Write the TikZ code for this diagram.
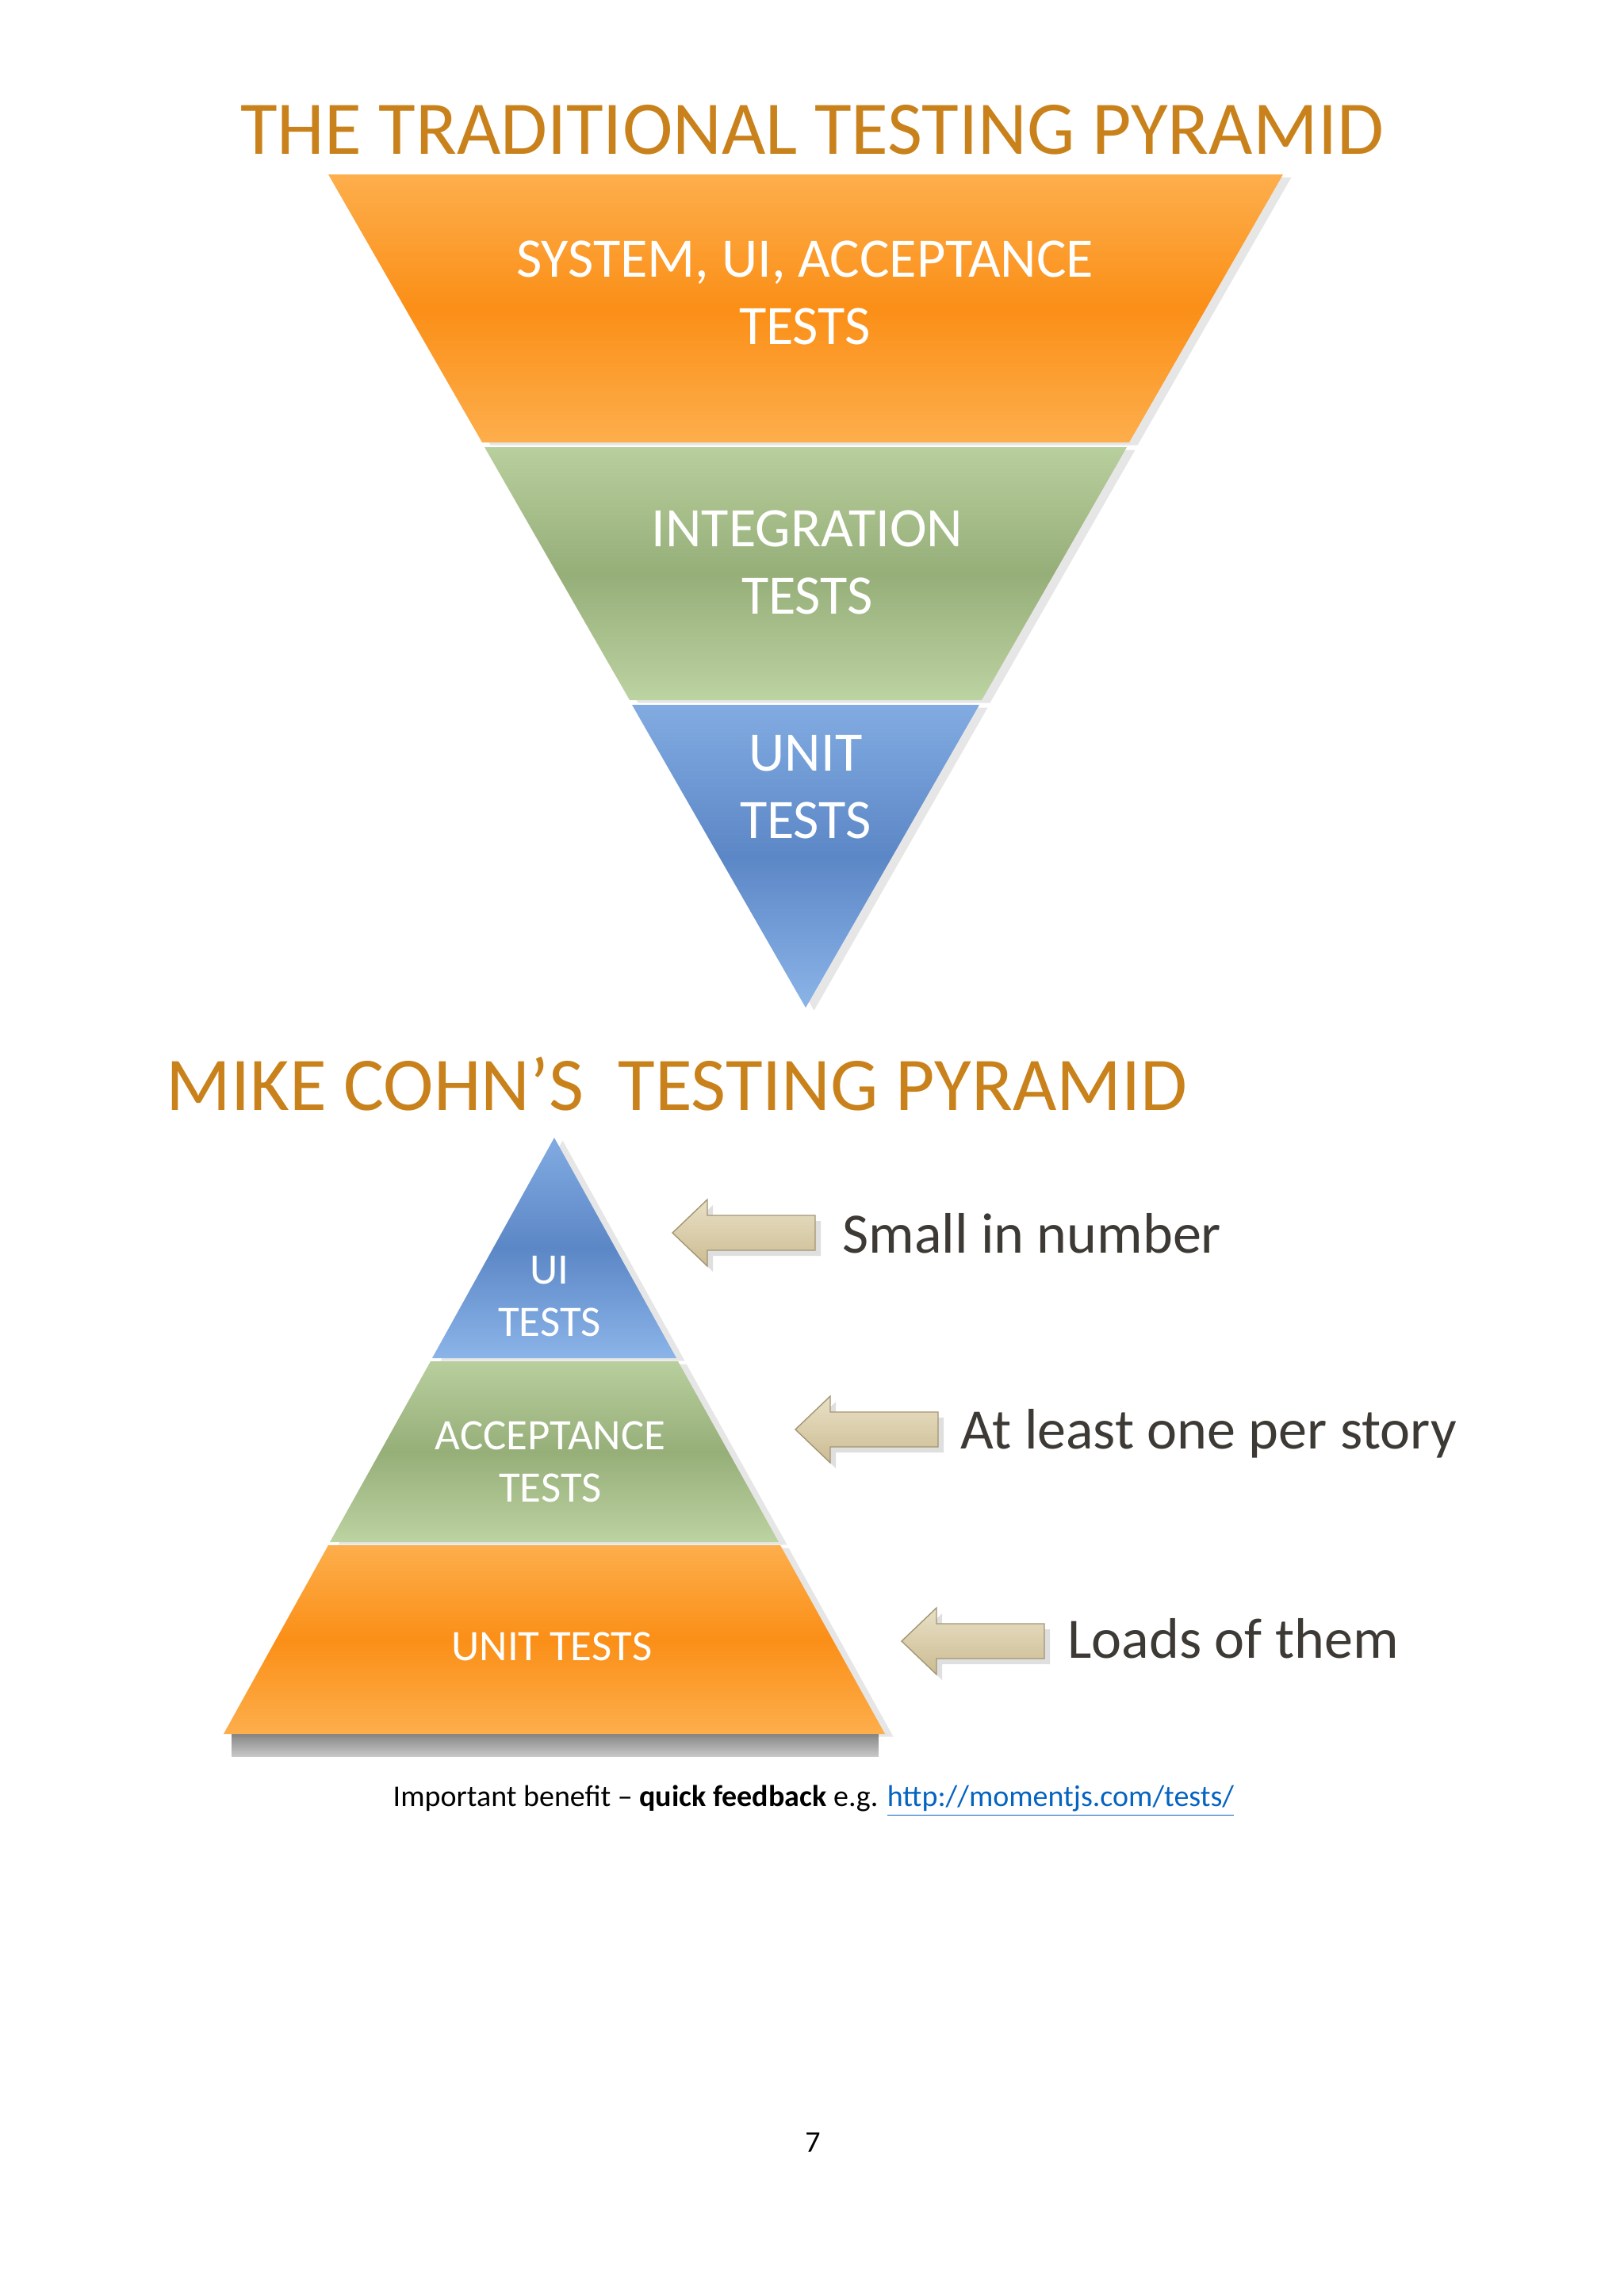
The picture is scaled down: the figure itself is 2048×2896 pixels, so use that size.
\documentclass[tikz,border=0pt]{standalone}
\usepackage{fontspec}
\setmainfont{Carlito}
\usetikzlibrary{shadows}
\definecolor{titleorange}{HTML}{C9821B}
\definecolor{bandorange}{HTML}{FB8F17}
\definecolor{bandorangelt}{HTML}{FDAE4C}
\definecolor{bandgreen}{HTML}{96AE78}
\definecolor{bandgreenlt}{HTML}{BCD3A2}
\definecolor{bandblue}{HTML}{5C87C6}
\definecolor{bandbluelt}{HTML}{8BB4E8}
\definecolor{arrowbeige}{HTML}{E9E0C6}
\definecolor{arrowbeigedk}{HTML}{CBBC92}
\definecolor{notegray}{HTML}{3D3935}
\definecolor{linkblue}{HTML}{0563C1}
\tikzset{
    tp title/.style={font=\fontsize{27.2pt}{32pt}\selectfont, text=titleorange,
                     inner sep=0pt},
    tp band/.style={drop shadow={shadow xshift=3pt, shadow yshift=-1pt,
                    opacity=0.2}},
    tp orange/.style={tp band, top color=bandorangelt, bottom color=bandorangelt,
                      middle color=bandorange},
    tp green/.style={tp band, top color=bandgreenlt!90!bandgreen,
                     bottom color=bandgreenlt, middle color=bandgreen},
    tp blue/.style={tp band, top color=bandbluelt!80!bandblue,
                    bottom color=bandbluelt, middle color=bandblue},
    tp big/.style={font=\fontsize{20pt}{24.2pt}\selectfont, text=white,
                   align=center, inner sep=0pt},
    tp small/.style={font=\fontsize{15.6pt}{18.8pt}\selectfont, text=white,
                     align=center, inner sep=0pt},
    tp arrow/.style={top color=arrowbeige, bottom color=arrowbeigedk,
                     draw=arrowbeigedk!80!black, thin,
                     drop shadow={shadow xshift=2pt, shadow yshift=-2pt,
                     opacity=0.25}},
    tp note/.style={font=\fontsize{20.5pt}{24pt}\selectfont, text=notegray,
                    anchor=base west, inner sep=0pt},
    tp foot/.style={font=\fontsize{10.8pt}{13pt}\selectfont, inner sep=0pt},
}
% block arrow pointing left: tip x, centre y
\newcommand{\tparrow}[2]{%
    \path[tp arrow] (#1,#2) -- ++(44,-42) -- ++(0,20) -- ++(136,0)
        -- ++(0,44) -- ++(-136,0) -- ++(0,20) -- cycle;
}
\begin{document}
\begin{tikzpicture}[x=0.01cm, y=-0.01cm]
    \useasboundingbox (0,0) rectangle (2048,2896);
    % Traditional pyramid (upside down)
    \node[tp title] (title1) at (1024,164) {THE TRADITIONAL TESTING PYRAMID};
    \path[tp orange] (414,220) -- (1618,220) -- (1424,558) -- (608,558) -- cycle;
    \path[tp green] (611,564) -- (1421,564) -- (1238,883) -- (794,883) -- cycle;
    \path[tp blue] (797,889) -- (1235,889) -- (1016,1271) -- cycle;
    \node[tp big] (sys) at (1015,369) {SYSTEM, UI, ACCEPTANCE\\TESTS};
    \node[tp big] (integ) at (1018,709) {INTEGRATION\\TESTS};
    \node[tp big] (unitA) at (1016,993) {UNIT\\TESTS};
    % Mike Cohn's pyramid
    \node[tp title, anchor=west] (title2) at (209,1367)
        {MIKE COHN’S\ \ TESTING PYRAMID};
    \fill[top color=black!38, bottom color=white, opacity=0.7]
        (292,2187) rectangle (1108,2216);
    \path[tp blue] (699,1435) -- (853,1713) -- (545,1713) -- cycle;
    \path[tp green] (543,1717) -- (855,1717) -- (982,1945) -- (416,1945) -- cycle;
    \path[tp orange] (414,1949) -- (984,1949) -- (1116,2187) -- (282,2187) -- cycle;
    \node[tp small] (ui) at (693,1635) {UI\\TESTS};
    \node[tp small] (accept) at (694,1844) {ACCEPTANCE\\TESTS};
    \node[tp small] (unitB) at (696,2077) {UNIT TESTS};
    % Arrows and notes
    \tparrow{848}{1555}
    \tparrow{1003}{1803}
    \tparrow{1137}{2070}
    \node[tp note] (few) at (1062,1580) {Small in number};
    \node[tp note] (story) at (1211,1827) {At least one per story};
    \node[tp note] (loads) at (1346,2091) {Loads of them};
    % Footer
    \node[tp foot, anchor=base west] (benefit) at (495,2278)
        {Important benefit \textendash{} \textbf{quick feedback} e.g.
         \textcolor{linkblue}{\underline{http://momentjs.com/tests/}}};
    \node[tp foot] (page) at (1025,2702) {7};
\end{tikzpicture}
\end{document}
